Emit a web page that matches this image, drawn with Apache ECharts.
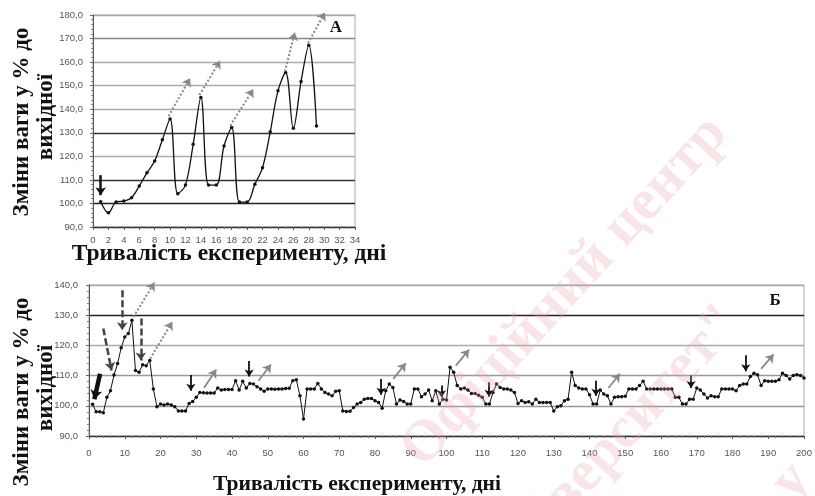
<!DOCTYPE html>
<html><head><meta charset="utf-8">
<script src="https://cdn.jsdelivr.net/npm/echarts@6/dist/echarts.min.js"></script>
<style>html,body{margin:0;padding:0;background:#fff}#c{width:815px;height:496px}</style>
</head><body><div id="c"></div>
<script>
// Panel A: days 1..29
const daysA = [1,2,3,4,5,6,7,8,9,10,11,12,13,14,15,16,17,18,19,20,21,22,23,24,25,26,27,28,29];
const valuesA = [100.7,96.0,100.6,101.0,102.4,107.4,113.0,118.0,127.0,135.9,104.1,107.8,125.1,145.0,107.8,107.8,124.4,132.2,100.6,100.6,108.1,115.2,130.4,147.8,155.6,131.9,151.8,167.2,132.9];
// Panel Б: days 1..200
const valuesB = [
100.5,98,98,97.7,102.8,105,110.2,114,119.2,122.8,
123.9,128.3,111.7,111.1,113.6,113.3,115,105.6,99.7,100.6,
100.3,100.6,100.3,99.7,98.3,98.3,98.3,100.8,101.4,102.8,
104.4,104.3,104.2,104.2,104.2,105.9,105.2,105.4,105.4,105.4,
108.3,105.2,108.1,105.9,107.4,107.2,106.3,105.6,104.8,105.6,
105.6,105.5,105.6,105.6,105.7,105.8,108.3,108.6,103.3,95.6,
105.6,105.6,105.6,107.4,105.6,104.4,103.9,103.3,104.8,105,
98.3,98.1,98.2,99.4,100.6,101.1,102.2,102.4,102.4,101.7,
101.1,99.2,105,107.2,106.1,100.6,101.9,101.4,100.6,100.6,
105.6,105.6,103,103.9,105.2,101.7,105,100.6,102.2,101.9,
112.8,111.1,106.7,105.6,105.9,105.2,104.1,104.1,103.5,102.8,
100.6,100.6,104.4,107.2,106.1,105.6,105.6,105.2,104.4,100.8,
101.7,101.1,101.3,100.6,102.2,101.1,101.1,101.1,101.1,98.3,
99.7,100,101.7,102.2,111.1,106.7,105.9,105.6,105.6,103.7,
100.6,100.6,105.2,103.9,103.3,100.6,102.8,103,103,103.2,
105.6,105.6,105.6,106.7,108.1,105.6,105.6,105.6,105.6,105.6,
105.6,105.6,105.6,102.8,102.8,100.6,100.6,102.2,102.2,105.9,
105.2,103.9,102.6,103.3,103,103,105.6,105.6,105.6,105.6,
105,106.7,107.2,107.2,109.7,110.8,110.3,106.7,108.3,108.1,
108.1,108.1,108.6,110.8,110,108.9,110,110.3,110,109.2];

// annotation arrows [x1,y1,x2,y2]
const dottedArrowsA = [[9.8,137,12.6,153.2],[13.8,146,16.5,160.6],[17.8,133,20.8,148.5],[24.9,156,26.2,172.6],[27.9,168,30.1,181.1]];
const blackArrowsA = [[1,112,1,103.5]];
const thickArrowsB = [[3.1,110.6,1.5,102.2]];
const darkArrowsB = [[4,125.6,6.3,111.7],[9.3,138.3,9.3,125],[14.5,128.9,14.5,115]];
const blackArrowsB = [[28.5,110.2,28.5,105],[44.8,114.8,44.8,109.7],[81.7,108.9,81.7,103.7],[98.6,106.7,98.6,102.8],[111.9,107.8,111.9,103],[141.8,108.3,141.8,103.3],[168.4,110,168.4,105.9],[183.7,116.7,183.7,111.4]];
const dottedArrowsB = [[12.4,129.4,18.3,140.8],[17.1,115.6,23.3,127.8]];
const greyArrowsB = [[32.2,106,35.6,112],[47.4,108.3,50.9,113.7],[85.1,108.9,88.6,114.1],[102.6,113.3,106.3,118.6],[145.3,105.9,148.5,110.6],[188,112.2,191.5,117]];

const yTitle = 'Зміни ваги у % до';
const yTitle2 = 'вихідної';
const xTitle = 'Тривалість експерименту, дні';

const chart = echarts.init(document.getElementById('c'), null, {renderer:'canvas'});
const lbl = {fontSize:9.5, color:'#555', fontFamily:'Liberation Sans, Arial, sans-serif'};
const fmt = v => v.toFixed(1).replace('.', ',');
function arrows(list, xi, color, width, type, size){
  return {type:'lines', coordinateSystem:'cartesian2d', xAxisIndex:xi, yAxisIndex:xi, clip:false, z:5,
    symbol:['none','arrow'], symbolSize:size, silent:true,
    lineStyle:{color:color, width:width, type:type, opacity:1},
    data: list.map(a => ({coords:[[a[0],a[1]],[a[2],a[3]]]}))};
}
const serif = 'Liberation Serif, Times New Roman, serif';
const wm = 'rgba(232,160,170,0.28)';
chart.setOption({
  animation:false,
  grid:[
    {left:93, top:15, width:262, height:212, show:true, borderColor:'#aaa', borderWidth:1},
    {left:89, top:285, width:715, height:151, show:true, borderColor:'#aaa', borderWidth:1}
  ],
  xAxis:[
    {gridIndex:0, type:'value', min:0, max:34, interval:2,
     axisLine:{lineStyle:{color:'#333'}}, axisTick:{length:3, lineStyle:{color:'#555'}},
     minorTick:{show:true, splitNumber:2, length:2, lineStyle:{color:'#777'}},
     axisLabel:Object.assign({margin:8}, lbl), splitLine:{show:false}},
    {gridIndex:1, type:'value', min:0, max:200, interval:10,
     axisLine:{lineStyle:{color:'#333'}}, axisTick:{length:3, lineStyle:{color:'#555'}},
     minorTick:{show:true, splitNumber:5, length:2, lineStyle:{color:'#777'}},
     axisLabel:Object.assign({margin:12}, lbl), splitLine:{show:false}}
  ],
  yAxis:[
    {gridIndex:0, type:'value', min:90, max:180, interval:10,
     axisLine:{show:true, lineStyle:{color:'#555'}}, axisTick:{show:true, length:3, lineStyle:{color:'#666'}},
     minorTick:{show:true, splitNumber:5, length:2, lineStyle:{color:'#888'}},
     axisLabel:Object.assign({margin:10, formatter:fmt}, lbl),
     splitLine:{show:true, lineStyle:{width:1.3, color:['#333','#222','#333','#aaa','#333','#aaa','#aaa','#aaa','#888','#aaa']}}},
    {gridIndex:1, type:'value', min:90, max:140, interval:10,
     axisLine:{show:true, lineStyle:{color:'#555'}}, axisTick:{show:true, length:3, lineStyle:{color:'#666'}},
     minorTick:{show:true, splitNumber:5, length:2, lineStyle:{color:'#888'}},
     axisLabel:Object.assign({margin:11, formatter:fmt}, lbl),
     splitLine:{show:true, lineStyle:{width:1.3, color:['#333','#999','#999','#aaa','#222','#aaa']}}}
  ],
  series:[
    {type:'line', xAxisIndex:0, yAxisIndex:0, smooth:0.35, z:4,
     data: daysA.map((d,i)=>[d, valuesA[i]]),
     symbol:'circle', symbolSize:3.5, itemStyle:{color:'#111'},
     lineStyle:{color:'#111', width:1.3}},
    {type:'line', xAxisIndex:1, yAxisIndex:1, z:4,
     data: valuesB.map((v,i)=>[i+1, v]),
     symbol:'circle', symbolSize:3.5, itemStyle:{color:'#111'},
     lineStyle:{color:'#111', width:1}},
    arrows(dottedArrowsA, 0, '#888', 2, 'dotted', 8),
    arrows(blackArrowsA, 0, '#111', 2.5, 'solid', 8),
    arrows(thickArrowsB, 1, '#111', 4.5, 'solid', 9),
    arrows(darkArrowsB, 1, '#444', 2.5, [7,3], 8),
    arrows(blackArrowsB, 1, '#111', 1.8, 'solid', 7),
    arrows(dottedArrowsB, 1, '#888', 2, 'dotted', 8),
    arrows(greyArrowsB, 1, '#888', 1.8, 'solid', 8)
  ],
  graphic:[
    {type:'text', x:22, y:122, rotation:Math.PI/2, style:{text:yTitle, font:'bold 23px '+serif, fill:'#111', align:'center', verticalAlign:'middle'}},
    {type:'text', x:46, y:117, rotation:Math.PI/2, style:{text:yTitle2, font:'bold 23px '+serif, fill:'#111', align:'center', verticalAlign:'middle'}},
    {type:'text', x:229, y:254, style:{text:xTitle, font:'bold 23.5px '+serif, fill:'#111', align:'center', verticalAlign:'middle'}},
    {type:'text', x:22, y:392, rotation:Math.PI/2, style:{text:yTitle, font:'bold 23px '+serif, fill:'#111', align:'center', verticalAlign:'middle'}},
    {type:'text', x:46, y:388, rotation:Math.PI/2, style:{text:yTitle2, font:'bold 23px '+serif, fill:'#111', align:'center', verticalAlign:'middle'}},
    {type:'text', x:357, y:484, style:{text:xTitle, font:'bold 21.5px '+serif, fill:'#111', align:'center', verticalAlign:'middle'}},
    {type:'text', x:336, y:28, style:{text:'А', font:'bold 17px '+serif, fill:'#111', align:'center', verticalAlign:'middle'}},
    {type:'text', x:775, y:301, style:{text:'Б', font:'bold 17px '+serif, fill:'#111', align:'center', verticalAlign:'middle'}},
    {type:'text', x:565, y:292, rotation:0.83, z:100, style:{text:'Офіційний центр', font:'bold 58px '+serif, fill:wm, align:'center', verticalAlign:'middle'}},
    {type:'text', x:617, y:440, rotation:0.83, z:100, style:{text:'університет"', font:'bold 58px '+serif, fill:wm, align:'center', verticalAlign:'middle'}},
    {type:'text', x:792, y:482, rotation:0.83, z:100, style:{text:'у', font:'bold 58px '+serif, fill:wm, align:'center', verticalAlign:'middle'}}
  ]
});
</script>
</body></html>
